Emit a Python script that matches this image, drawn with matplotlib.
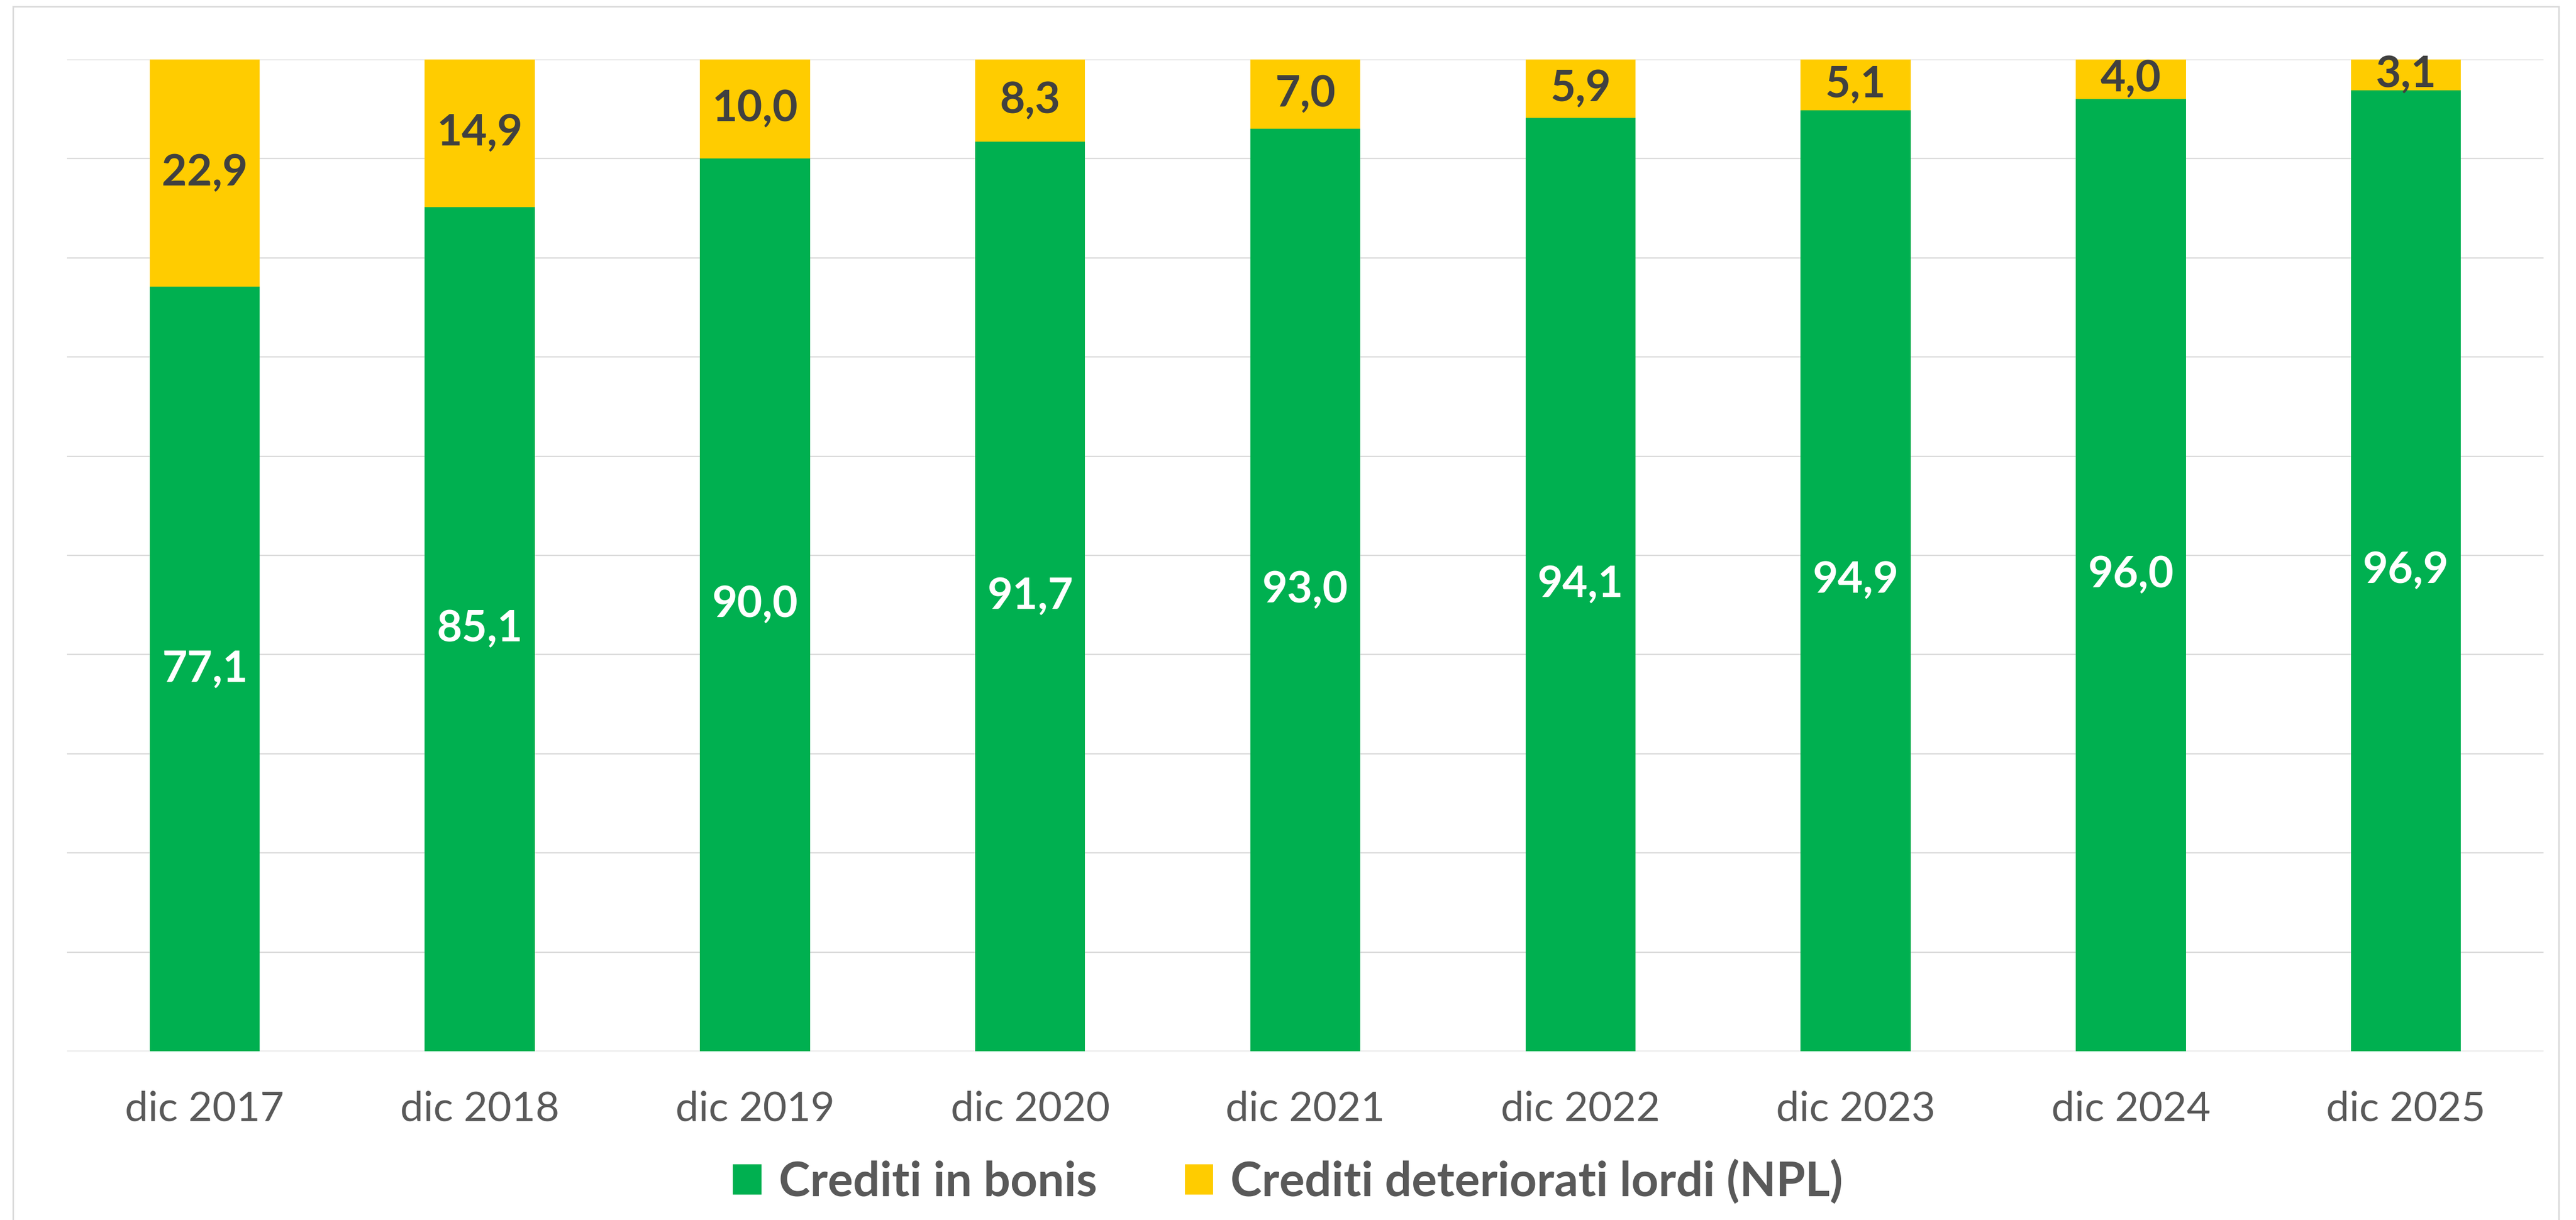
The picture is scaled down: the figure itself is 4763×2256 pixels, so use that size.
import matplotlib.pyplot as plt
from matplotlib.patches import Rectangle

# data
periods = ['dic 2017', 'dic 2018', 'dic 2019', 'dic 2020', 'dic 2021',
           'dic 2022', 'dic 2023', 'dic 2024', 'dic 2025']
bonis = [77.1, 85.1, 90.0, 91.7, 93.0, 94.1, 94.9, 96.0, 96.9]
npl = [22.9, 14.9, 10.0, 8.3, 7.0, 5.9, 5.1, 4.0, 3.1]

green = '#00B050'
yellow = '#FFCC00'
grid_col = '#D9D9D9'

plt.rcParams['font.family'] = ['Lato', 'DejaVu Sans']

fig = plt.figure(figsize=(47.63, 22.56), dpi=100)
ax = fig.add_axes([0.02603, 0.1383, 0.96137, 0.81294])

x = range(len(periods))
b1 = ax.bar(x, bonis, width=0.4, color=green, label='Crediti in bonis', zorder=3)
b2 = ax.bar(x, npl, width=0.4, bottom=bonis, color=yellow,
            label='Crediti deteriorati lordi (NPL)', zorder=3)

# labels in the middle of each segment, Italian decimal comma
fmt = lambda v: f'{v:.1f}'.replace('.', ',')
ax.bar_label(b1, labels=[fmt(v) for v in bonis], label_type='center',
             color='white', fontsize=58, fontweight='bold', zorder=4)
ax.bar_label(b2, labels=[fmt(v) for v in npl], label_type='center',
             color='#404040', fontsize=58, fontweight='bold', zorder=4)

ax.set_xlim(-0.5, len(periods) - 0.5)
ax.set_ylim(0, 100)
ax.set_yticks(range(0, 101, 10))
ax.set_yticklabels([])
ax.yaxis.grid(True, color=grid_col, linewidth=1.7, zorder=0)
ax.tick_params(axis='y', length=0)
ax.set_xticks(list(x))
ax.set_xticklabels(periods, fontsize=55, color='#595959')
ax.tick_params(axis='x', length=0, pad=52)
for s in ax.spines.values():
    s.set_visible(False)

fig.legend(loc='center', bbox_to_anchor=(0.5, 0.0315), ncol=2, frameon=False,
           prop={'size': 63, 'weight': 'bold'}, labelcolor='#595959',
           handlelength=0.6, handleheight=0.6, handletextpad=0.37,
           columnspacing=1.85)

# light frame around the chart area
fig.patches.append(Rectangle((24 / 4763, -0.01), (4731 - 24) / 4763,
                             1 - 12 / 2256 + 0.01, transform=fig.transFigure,
                             fill=False, edgecolor=grid_col, linewidth=2))

plt.savefig('out.png', dpi=100)
